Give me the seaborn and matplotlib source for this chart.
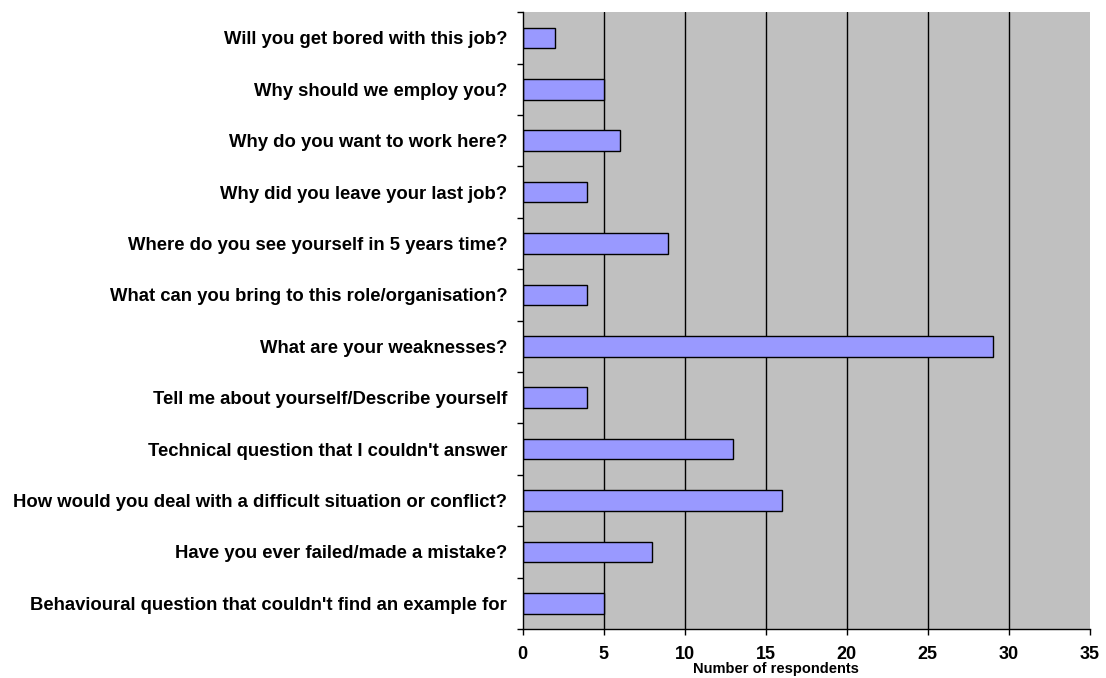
import numpy as np
import pandas as pd
import seaborn as sns
import matplotlib.pyplot as plt
from matplotlib.ticker import FixedLocator

questions = [
    "Will you get bored with this job?",
    "Why should we employ you?",
    "Why do you want to work here?",
    "Why did you leave your last job?",
    "Where do you see yourself in 5 years time?",
    "What can you bring to this role/organisation?",
    "What are your weaknesses?",
    "Tell me about yourself/Describe yourself",
    "Technical question that I couldn't answer",
    "How would you deal with a difficult situation or conflict?",
    "Have you ever failed/made a mistake?",
    "Behavioural question that couldn't find an example for",
]
respondents = [2, 5, 6, 4, 9, 4, 29, 4, 13, 16, 8, 5]
x_ticks = [0, 5, 10, 15, 20, 25, 30, 35]

sns.set_style("white")
plt.rcParams['font.family'] = ['Liberation Sans', 'DejaVu Sans']
plt.rcParams['font.weight'] = 'bold'
plt.rcParams['text.color'] = 'black'
plt.rcParams['axes.labelcolor'] = 'black'
plt.rcParams['xtick.color'] = 'black'
plt.rcParams['ytick.color'] = 'black'

df = pd.DataFrame({'question': questions, 'count': respondents})

fig = plt.figure(figsize=(11.06, 6.78), dpi=100)
ax = fig.add_axes([0.4725, 0.0723, 0.513, 0.9097])
ax.set_facecolor('#C0C0C0')

sns.barplot(data=df, y='question', x='count', orient='h', color='#9999FF',
            saturation=1, edgecolor='black', linewidth=1, width=0.4, ax=ax)

ax.set_xlim(0, 35)
ax.set_ylim(len(questions) - 0.5, -0.5)
ax.set_xticks(x_ticks)
ax.set_xticklabels([str(t) for t in x_ticks], fontsize=13, fontweight='bold')
for t in x_ticks[1:-1]:
    ax.axvline(t, color='black', linewidth=1, zorder=0.5)
ax.set_axisbelow(True)

ax.set_yticks(range(len(questions)))
ax.set_yticklabels(questions, fontsize=13.3, fontweight='bold')
ax.yaxis.set_minor_locator(FixedLocator(np.arange(-0.5, len(questions), 1)))
ax.tick_params(axis='y', which='major', left=True, length=0, pad=11)
ax.tick_params(axis='y', which='minor', left=True, length=4.3, width=1, color='black', direction='out')
ax.tick_params(axis='x', which='major', bottom=True, length=4.3, width=1, color='black', direction='out', pad=8)

ax.set_ylabel('')
ax.set_xlabel('Number of respondents', fontsize=10.5, fontweight='bold')
ax.xaxis.set_label_coords(0.447, -0.0543)

for side in ['top', 'right']:
    ax.spines[side].set_visible(False)
for side in ['left', 'bottom']:
    ax.spines[side].set_color('black')
    ax.spines[side].set_linewidth(1)

fig.savefig('out.png', dpi=100)
